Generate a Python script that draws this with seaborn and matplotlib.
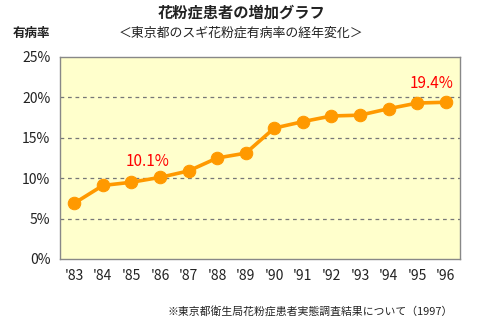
import matplotlib
matplotlib.use("Agg")
import matplotlib.pyplot as plt
import seaborn as sns
import pandas as pd
from matplotlib.ticker import FixedLocator

sns.set_theme(style="white")
plt.rcParams['font.family'] = ['Noto Sans CJK JP', 'DejaVu Sans']

years = ["'83", "'84", "'85", "'86", "'87", "'88", "'89",
         "'90", "'91", "'92", "'93", "'94", "'95", "'96"]
rates = [6.9, 9.1, 9.5, 10.1, 10.9, 12.5, 13.1,
         16.2, 17.0, 17.7, 17.8, 18.6, 19.3, 19.4]
y_ticks = [0, 5, 10, 15, 20, 25]
y_labels = ["0%", "5%", "10%", "15%", "20%", "25%"]

df = pd.DataFrame({"idx": range(len(years)), "year": years, "rate": rates})

fig = plt.figure(figsize=(4.8, 3.26), dpi=100)
ax = fig.add_axes([60 / 480, 67 / 326, 400 / 480, 202 / 326])
ax.set_facecolor("#FFFFCC")

sns.lineplot(data=df, x="idx", y="rate", ax=ax, color="#FF9900",
             linewidth=2.6, marker="o", markersize=9,
             markeredgecolor="#FF9900", markerfacecolor="#FF9900")

ax.set_xlim(-0.5, len(years) - 0.5)
ax.set_ylim(0, 25)
ax.set_xticks(range(len(years)))
ax.set_xticklabels(years, fontsize=10, color="#222222")
ax.tick_params(axis="x", which="major", length=0, pad=7)
ax.xaxis.set_minor_locator(FixedLocator([i + 0.5 for i in range(len(years) - 1)]))
ax.tick_params(axis="x", which="minor", direction="in", length=4,
               color="#777777", width=0.8)
ax.set_yticks(y_ticks)
ax.set_yticklabels(y_labels, fontsize=10, color="#222222")
ax.tick_params(axis="y", length=0, pad=7)
ax.set_xlabel("")
ax.set_ylabel("")

for v in y_ticks[1:-1]:
    ax.axhline(v, color="#777777", linestyle=(0, (3, 3)), linewidth=0.9, zorder=0)

for s in ax.spines.values():
    s.set_color("#888888")
    s.set_linewidth(1.0)

# highlighted values
for i, dx, dy in ((3, -12, 16), (13, -14, 19)):
    ax.annotate(f"{rates[i]}%", xy=(i, rates[i]), xytext=(dx, dy),
                textcoords="offset pixels", ha="center", va="center",
                color="#FF0000", fontsize=11)

fig.text(242 / 480, 1 - 13 / 326, "花粉症患者の増加グラフ", ha="center", va="center",
         fontsize=11, fontweight="bold", color="#222222")
fig.text(241 / 480, 1 - 33 / 326, "＜東京都のスギ花粉症有病率の経年変化＞", ha="center",
         va="center", fontsize=9.3, color="#222222")
fig.text(13 / 480, 1 - 33 / 326, "有病率", ha="left", va="center",
         fontsize=9, fontweight="bold", color="#222222")
fig.text(453 / 480, 1 - 312 / 326, "※東京都衛生局花粉症患者実態調査結果について（1997）",
         ha="right", va="center", fontsize=7.8, color="#222222")

fig.savefig("out.png", dpi=100, facecolor="white")
